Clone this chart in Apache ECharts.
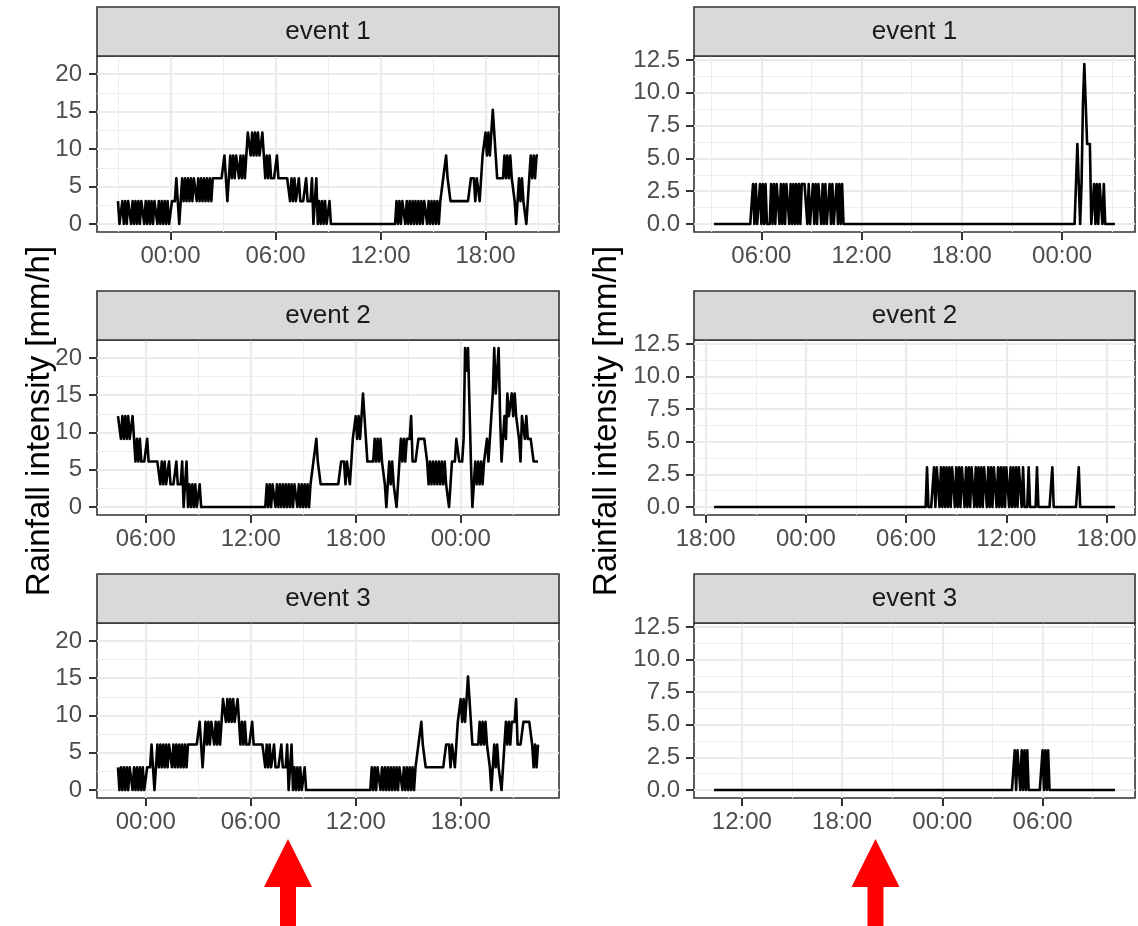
<!DOCTYPE html>
<html>
<head>
<meta charset="utf-8">
<script src="https://cdn.jsdelivr.net/npm/echarts@6/dist/echarts.min.js"></script>
<style>
html,body{margin:0;padding:0;background:#ffffff;}
#chart{width:1138px;height:926px;}
</style>
</head>
<body>
<div id="chart"></div>
<script>
// ---------------- DATA ----------------
// time is counted in hours from 00:00 of the first day; samples every 5 minutes
const STEP_H = 5 / 60;
const eventLabels = ['event 1', 'event 2', 'event 3'];
const yTitle = 'Rainfall intensity [mm/h]';

// left column gauge record (mm/h), first sample at 21:00 of day 0
const leftStartH = 21;
const leftRain = [
3.05,0,0,3.05,0,3.05,0,3.05,3.05,0,3.05,0,
3.05,0,3.05,0,3.05,3.05,0,3.05,0,3.05,0,3.05,
0,3.05,3.05,0,3.05,0,3.05,0,3.05,0,3.05,0,
0,3.05,3.05,3.05,6.1,3.05,0,3.05,6.1,3.05,6.1,3.05,
6.1,3.05,6.1,3.05,6.1,6.1,3.05,6.1,3.05,6.1,3.05,6.1,
3.05,6.1,3.05,6.1,3.05,6.1,6.1,6.1,6.1,6.1,6.1,6.1,
6.1,9.14,6.1,3.05,6.1,9.14,6.1,9.14,6.1,9.14,9.14,6.1,
9.14,6.1,9.14,6.1,9.14,12.19,12.19,9.14,12.19,9.14,12.19,9.14,
12.19,9.14,9.14,12.19,9.14,6.1,9.14,6.1,9.14,6.1,6.1,6.1,
6.1,9.14,6.1,6.1,6.1,6.1,6.1,6.1,6.1,6.1,3.05,6.1,
3.05,6.1,3.05,3.05,6.1,3.05,3.05,3.05,3.05,6.1,3.05,3.05,
3.05,6.1,0,3.05,6.1,0,3.05,0,3.05,0,3.05,0,
0,3.05,0,0,0,0,0,0,0,0,0,0,
0,0,0,0,0,0,0,0,0,0,0,0,
0,0,0,0,0,0,0,0,0,0,0,0,
0,0,0,0,0,0,0,0,0,0,0,3.05,
0,3.05,0,3.05,3.05,0,3.05,0,3.05,0,3.05,0,
3.05,0,3.05,0,3.05,0,3.05,3.05,0,3.05,0,3.05,
0,3.05,0,3.05,0,3.05,3.05,6.1,6.1,9.14,6.1,6.1,
3.05,3.05,3.05,3.05,3.05,3.05,3.05,3.05,3.05,3.05,3.05,3.05,
3.05,3.05,6.1,6.1,6.1,3.05,6.1,6.1,3.05,6.1,9.14,9.14,
12.19,9.14,12.19,9.14,12.19,15.24,12.19,9.14,6.1,6.1,6.1,6.1,
6.1,9.14,6.1,9.14,6.1,9.14,6.1,6.1,3.05,0,3.05,6.1,
3.05,6.1,3.05,3.05,0,3.05,6.1,9.14,6.1,9.14,6.1,9.14,
9.14,9.14,12.19,6.1,6.1,6.1,6.1,9.14,9.14,9.14,9.14,9.14,
9.14,6.1,3.05,6.1,3.05,6.1,3.05,6.1,3.05,6.1,3.05,6.1,
3.05,6.1,3.05,3.05,0,3.05,6.1,6.1,6.1,9.14,9.14,6.1,
6.1,6.1,9.14,21.34,18.29,21.34,21.34,6.1,0,3.05,6.1,3.05,
6.1,3.05,6.1,3.05,6.1,6.1,9.14,6.1,9.14,12.19,15.24,21.34,
15.24,18.29,21.34,12.19,6.1,9.14,12.19,9.14,15.24,12.19,12.19,15.24,
12.19,15.24,12.19,12.19,9.14,6.1,12.19,12.19,9.14,12.19,9.14,9.14,
9.14,9.14,6.1,6.1,6.1,6.1
];
// [from, to] in hours for each left-column event window
const leftWindows = [[21, 45], [28 + 25 / 60, 52 + 25 / 60], [22 + 25 / 60, 46 + 25 / 60]];

// right column events (mm/h)
const r1StartH = 3 + 10 / 60;
const r1Rain = [
0,0,0,0,0,0,0,0,0,0,0,0,
0,0,0,0,0,0,0,0,0,0,0,0,
0,0,0,0,3.05,0,3.05,0,0,3.05,0,3.05,
0,3.05,0,0,0,3.05,0,3.05,0,3.05,3.05,0,
3.05,0,3.05,0,3.05,3.05,0,3.05,0,3.05,0,3.05,
0,3.05,0,3.05,3.05,3.05,3.05,0,3.05,0,0,3.05,
0,3.05,0,3.05,3.05,0,3.05,0,3.05,0,0,3.05,
0,3.05,0,0,3.05,0,3.05,0,3.05,0,0,0,
0,0,0,0,0,0,0,0,0,0,0,0,
0,0,0,0,0,0,0,0,0,0,0,0,
0,0,0,0,0,0,0,0,0,0,0,0,
0,0,0,0,0,0,0,0,0,0,0,0,
0,0,0,0,0,0,0,0,0,0,0,0,
0,0,0,0,0,0,0,0,0,0,0,0,
0,0,0,0,0,0,0,0,0,0,0,0,
0,0,0,0,0,0,0,0,0,0,0,0,
0,0,0,0,0,0,0,0,0,0,0,0,
0,0,0,0,0,0,0,0,0,0,0,0,
0,0,0,0,0,0,0,0,0,0,0,0,
0,0,0,0,0,0,0,0,0,0,0,0,
0,0,0,0,0,0,0,0,0,0,0,0,
0,0,0,0,0,0,0,0,3.05,6.1,3.05,0,
3.05,9.14,12.19,9.14,6.1,6.1,6.1,0,0,3.05,0,3.05,
0,3.05,3.05,0,3.05,0,0,0,0,0,0,0,
0
];
const r2StartH = 18.5;
const r2Rain = [
0,0,0,0,0,0,0,0,0,0,0,0,
0,0,0,0,0,0,0,0,0,0,0,0,
0,0,0,0,0,0,0,0,0,0,0,0,
0,0,0,0,0,0,0,0,0,0,0,0,
0,0,0,0,0,0,0,0,0,0,0,0,
0,0,0,0,0,0,0,0,0,0,0,0,
0,0,0,0,0,0,0,0,0,0,0,0,
0,0,0,0,0,0,0,0,0,0,0,0,
0,0,0,0,0,0,0,0,0,0,0,0,
0,0,0,0,0,0,0,0,0,0,0,0,
0,0,0,0,0,0,0,0,0,0,0,0,
0,0,0,0,0,0,0,0,0,0,0,0,
0,0,0,0,0,0,0,0,0,3.05,0,0,
0,0,3.05,0,3.05,3.05,0,3.05,0,3.05,0,3.05,
0,3.05,0,3.05,3.05,0,3.05,0,3.05,0,3.05,3.05,
0,3.05,0,3.05,0,3.05,3.05,0,3.05,0,3.05,0,
3.05,0,3.05,3.05,0,3.05,0,3.05,0,3.05,3.05,0,
3.05,0,3.05,0,3.05,0,3.05,3.05,0,3.05,0,3.05,
0,3.05,0,3.05,3.05,0,3.05,0,0,0,3.05,0,
0,0,0,0,3.05,0,0,0,0,0,0,0,
0,0,0,3.05,0,0,0,0,0,0,0,0,
0,0,0,0,0,0,0,0,0,0,3.05,0,
0,0,0,0,0,0,0,0,0,0,0,0,
0,0,0,0,0,0,0,0,0,0,0,0,
0
];
const r3StartH = 10 + 20 / 60;
const r3Rain = [
0,0,0,0,0,0,0,0,0,0,0,0,
0,0,0,0,0,0,0,0,0,0,0,0,
0,0,0,0,0,0,0,0,0,0,0,0,
0,0,0,0,0,0,0,0,0,0,0,0,
0,0,0,0,0,0,0,0,0,0,0,0,
0,0,0,0,0,0,0,0,0,0,0,0,
0,0,0,0,0,0,0,0,0,0,0,0,
0,0,0,0,0,0,0,0,0,0,0,0,
0,0,0,0,0,0,0,0,0,0,0,0,
0,0,0,0,0,0,0,0,0,0,0,0,
0,0,0,0,0,0,0,0,0,0,0,0,
0,0,0,0,0,0,0,0,0,0,0,0,
0,0,0,0,0,0,0,0,0,0,0,0,
0,0,0,0,0,0,0,0,0,0,0,0,
0,0,0,0,0,0,0,0,0,0,0,0,
0,0,0,0,0,0,0,0,0,0,0,0,
0,0,0,0,0,0,0,0,0,0,0,0,
0,0,0,0,0,0,0,0,0,0,0,0,
3.05,0,3.05,3.05,0,3.05,0,3.05,0,3.05,0,0,
0,0,0,0,0,0,0,0,3.05,0,3.05,0,
3.05,0,0,0,0,0,0,0,0,0,0,0,
0,0,0,0,0,0,0,0,0,0,0,0,
0,0,0,0,0,0,0,0,0,0,0,0,
0,0,0,0,0,0,0,0,0,0,0,0,
0
];

// tick positions (hours) and y breaks
const l1XTicks = [24, 30, 36, 42], l1XMinor = [21, 27, 33, 39, 45];
const l2XTicks = [30, 36, 42, 48], l2XMinor = [33, 39, 45, 51];
const l3XTicks = [24, 30, 36, 42], l3XMinor = [27, 33, 39, 45];
const r1XTicks = [6, 12, 18, 24], r1XMinor = [3, 9, 15, 21, 27];
const r2XTicks = [18, 24, 30, 36, 42], r2XMinor = [21, 27, 33, 39];
const r3XTicks = [12, 18, 24, 30], r3XMinor = [15, 21, 27, 33];
const leftYTicks = [0, 5, 10, 15, 20], leftYMinor = [2.5, 7.5, 12.5, 17.5];
const rightYTicks = [0, 2.5, 5, 7.5, 10, 12.5], rightYMinor = [1.25, 3.75, 6.25, 8.75, 11.25];

// ---------------- BUILD ----------------
function toPoints(startH, values, fromH, toH) {
  const pts = [];
  values.forEach(function (v, i) {
    const t = startH + i * STEP_H;
    if (t >= fromH - 1e-6 && t <= toH + 1e-6) pts.push([t, v]);
  });
  return pts;
}
function lastH(startH, values) { return startH + (values.length - 1) * STEP_H; }

const panels = [
  {col: 0, row: 0, label: eventLabels[0], from: leftWindows[0][0], to: leftWindows[0][1],
   pts: toPoints(leftStartH, leftRain, leftWindows[0][0], leftWindows[0][1]), xt: l1XTicks, xm: l1XMinor},
  {col: 0, row: 1, label: eventLabels[1], from: leftWindows[1][0], to: leftWindows[1][1],
   pts: toPoints(leftStartH, leftRain, leftWindows[1][0], leftWindows[1][1]), xt: l2XTicks, xm: l2XMinor},
  {col: 0, row: 2, label: eventLabels[2], from: leftWindows[2][0], to: leftWindows[2][1],
   pts: toPoints(leftStartH, leftRain, leftWindows[2][0], leftWindows[2][1]), xt: l3XTicks, xm: l3XMinor},
  {col: 1, row: 0, label: eventLabels[0], from: r1StartH, to: lastH(r1StartH, r1Rain),
   pts: toPoints(r1StartH, r1Rain, -1e9, 1e9), xt: r1XTicks, xm: r1XMinor},
  {col: 1, row: 1, label: eventLabels[1], from: r2StartH, to: lastH(r2StartH, r2Rain),
   pts: toPoints(r2StartH, r2Rain, -1e9, 1e9), xt: r2XTicks, xm: r2XMinor},
  {col: 1, row: 2, label: eventLabels[2], from: r3StartH, to: lastH(r3StartH, r3Rain),
   pts: toPoints(r3StartH, r3Rain, -1e9, 1e9), xt: r3XTicks, xm: r3XMinor}
];

function colMax(col) {
  let m = 0;
  panels.forEach(function (p) { if (p.col === col) p.pts.forEach(function (d) { if (d[1] > m) m = d[1]; }); });
  return m;
}
const yRanges = [0, 1].map(function (c) { const m = colMax(c); return [-0.05 * m, m * 1.05]; });

const FONT = '"Liberation Sans", Arial, Helvetica, sans-serif';
const COL_LEFT = [97, 694], COL_W = [462, 441];
const ROW_TOP = [56, 340, 623], ROW_H = [176, 175, 175];
const STRIP_H = 49;

function fmtHour(v) {
  const h = ((Math.round(v) % 24) + 24) % 24;
  return (h < 10 ? '0' : '') + h + ':00';
}

const grids = [], xAxes = [], yAxes = [], series = [], graphics = [];
panels.forEach(function (p, g) {
  const left = COL_LEFT[p.col], width = COL_W[p.col], top = ROW_TOP[p.row], height = ROW_H[p.row];
  grids.push({left: left, top: top, width: width, height: height, show: true,
    borderColor: '#333333', borderWidth: 1.6, backgroundColor: '#ffffff',
    containLabel: false, outerBoundsMode: 'none'});
  const span = p.to - p.from;
  const xmin = p.from - 0.05 * span, xmax = p.to + 0.05 * span;
  const yr = yRanges[p.col];
  const yt = p.col === 0 ? leftYTicks : rightYTicks;
  const ym = p.col === 0 ? leftYMinor : rightYMinor;
  xAxes.push({gridIndex: g, type: 'value', position: 'bottom', min: xmin, max: xmax,
    axisLine: {show: false, onZero: false},
    axisTick: {show: true, length: 8, lineStyle: {color: '#333333', width: 2}, customValues: p.xt},
    axisLabel: {show: true, customValues: p.xt, formatter: fmtHour, fontSize: 24, fontFamily: FONT,
      color: '#4D4D4D', margin: 12},
    splitLine: {show: true, lineStyle: {color: '#EBEBEB', width: 2.2}}});
  xAxes.push({gridIndex: g, type: 'value', position: 'bottom', min: xmin, max: xmax,
    axisLine: {show: false, onZero: false},
    axisTick: {show: false, customValues: p.xm},
    axisLabel: {show: false, customValues: p.xm},
    splitLine: {show: true, lineStyle: {color: '#EDEDED', width: 1.1}}});
  yAxes.push({gridIndex: g, type: 'value', position: 'left', min: yr[0], max: yr[1],
    axisLine: {show: false, onZero: false},
    axisTick: {show: true, length: 8, lineStyle: {color: '#333333', width: 2}, customValues: yt},
    axisLabel: {show: true, customValues: yt,
      formatter: p.col === 0 ? function (v) { return String(v); } : function (v) { return v.toFixed(1); },
      fontSize: 24, fontFamily: FONT, color: '#4D4D4D', margin: p.col === 0 ? 15 : 14},
    splitLine: {show: true, lineStyle: {color: '#EBEBEB', width: 2.2}}});
  yAxes.push({gridIndex: g, type: 'value', position: 'left', min: yr[0], max: yr[1],
    axisLine: {show: false, onZero: false},
    axisTick: {show: false, customValues: ym},
    axisLabel: {show: false, customValues: ym},
    splitLine: {show: true, lineStyle: {color: '#EDEDED', width: 1.1}}});
  series.push({type: 'line', xAxisIndex: 2 * g, yAxisIndex: 2 * g, data: p.pts,
    showSymbol: false, symbol: 'none', silent: true, animation: false, z: 3,
    lineStyle: {color: '#000000', width: 2.6, join: 'round'}});
  // facet strip
  graphics.push({type: 'rect', shape: {x: left, y: top - STRIP_H, width: width, height: STRIP_H},
    style: {fill: '#D9D9D9', stroke: '#333333', lineWidth: 1.6}, z: 10});
  graphics.push({type: 'text', x: left + width / 2, y: top - STRIP_H / 2, z: 11,
    style: {text: p.label, font: '26px ' + FONT, fill: '#1A1A1A',
      align: 'center', verticalAlign: 'middle', textAlign: 'center', textVerticalAlign: 'middle'}});
});

// axis titles
[40, 607].forEach(function (x) {
  graphics.push({type: 'text', x: x, y: 421, rotation: Math.PI / 2, z: 11,
    style: {text: yTitle, font: '33px ' + FONT, fill: '#000000',
      align: 'center', verticalAlign: 'middle', textAlign: 'center', textVerticalAlign: 'middle'}});
});

// red arrows
[288, 875.5].forEach(function (cx) {
  graphics.push({type: 'polygon', z: 12,
    shape: {points: [[cx, 839], [cx + 24, 887], [cx + 8, 887], [cx + 8, 926], [cx - 8, 926], [cx - 8, 887], [cx - 24, 887]]},
    style: {fill: '#FF0000'}});
});

const chart = echarts.init(document.getElementById('chart'), null, {renderer: 'canvas'});
chart.setOption({
  animation: false,
  backgroundColor: '#ffffff',
  grid: grids,
  xAxis: xAxes,
  yAxis: yAxes,
  series: series,
  graphic: {elements: graphics}
});
</script>
</body>
</html>
